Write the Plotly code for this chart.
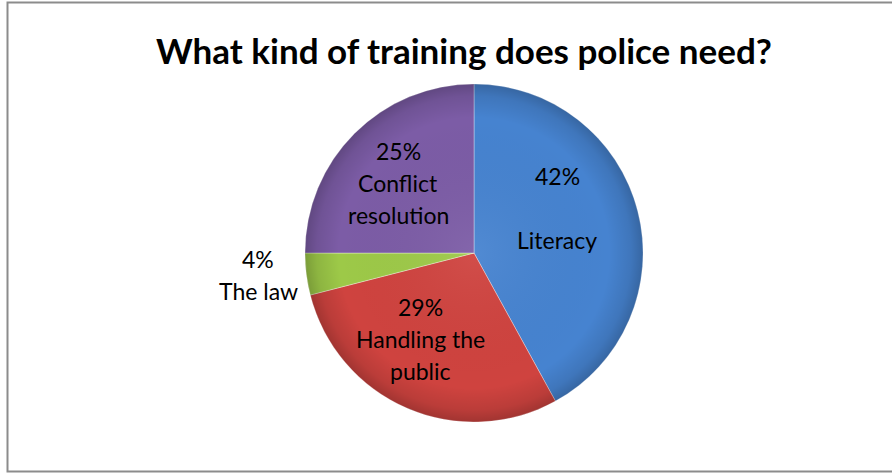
import base64
import plotly.graph_objects as go

# Survey answers
categories = ["Literacy", "Handling the public", "The law", "Conflict resolution"]
shares = [42, 29, 4, 25]
label_lines = [
    ["42%", "", "Literacy"],
    ["29%", "Handling the", "public"],
    ["4%", "The law"],
    ["25%", "Conflict", "resolution"],
]
title_text = "What kind of training does police need?"

# Layout constants (pixels)
W, H = 892, 474
CX, CY, R = 474, 253, 169
slice_colors = ["#4683d0", "#cf433f", "#9dc948", "#7c5ca6"]
# label block centres (pixels) and line spacing
label_centres = [(557, 208), (420, 339), (258, 275), (398, 183)]
LINE_GAP = 32

fig = go.Figure(
    go.Pie(
        labels=categories,
        values=shares,
        sort=False,
        direction="clockwise",
        rotation=0,
        textinfo="none",
        hoverinfo="label+percent",
        marker=dict(colors=slice_colors,
                    line=dict(color="rgba(255,255,255,0.35)", width=1)),
        domain=dict(x=[(CX - R) / W, (CX + R) / W],
                    y=[1 - (CY + R) / H, 1 - (CY - R) / H]),
        showlegend=False,
    )
)

# soft bevel shading laid over the disc: darker towards the rim
bevel_svg = (
    '<svg xmlns="http://www.w3.org/2000/svg" width="200" height="200" viewBox="0 0 200 200">'
    '<defs><radialGradient id="g" cx="50%" cy="50%" r="50%">'
    '<stop offset="0%" stop-color="#ffffff" stop-opacity="0.06"/>'
    '<stop offset="80%" stop-color="#000000" stop-opacity="0.0"/>'
    '<stop offset="93%" stop-color="#000000" stop-opacity="0.10"/>'
    '<stop offset="100%" stop-color="#000000" stop-opacity="0.22"/>'
    '</radialGradient></defs>'
    '<circle cx="100" cy="100" r="100" fill="url(#g)"/></svg>'
)
bevel_src = "data:image/svg+xml;base64," + base64.b64encode(bevel_svg.encode()).decode()

annotations = [
    dict(text=title_text, x=464 / W, y=1 - 50 / H, xref="paper", yref="paper",
         showarrow=False, xanchor="center", yanchor="middle",
         font=dict(family="Lato", size=35, color="#000000", weight="bold"))
]
for lines, (px, py) in zip(label_lines, label_centres):
    n = len(lines)
    for i, line in enumerate(lines):
        if not line:
            continue
        ly = py + (i - (n - 1) / 2) * LINE_GAP
        annotations.append(dict(
            text=line, x=px / W, y=1 - ly / H, xref="paper", yref="paper",
            showarrow=False, xanchor="center", yanchor="middle",
            font=dict(family="Lato", size=23, color="#000000")))

fig.update_layout(
    width=W, height=H,
    margin=dict(l=0, r=0, t=0, b=0),
    paper_bgcolor="#ffffff",
    plot_bgcolor="#ffffff",
    annotations=annotations,
    images=[dict(source=bevel_src, xref="paper", yref="paper",
                 x=(CX - R) / W, y=1 - (CY - R) / H,
                 sizex=2 * R / W, sizey=2 * R / H,
                 xanchor="left", yanchor="top", sizing="stretch",
                 layer="above", opacity=1)],
    shapes=[dict(type="rect", xref="paper", yref="paper",
                 x0=7.5 / W, x1=1.02, y0=1 - 471.5 / H, y1=1 - 2.5 / H,
                 line=dict(color="#8c8c8c", width=2), fillcolor="rgba(0,0,0,0)",
                 layer="above")],
)

fig.write_html("out.html")
